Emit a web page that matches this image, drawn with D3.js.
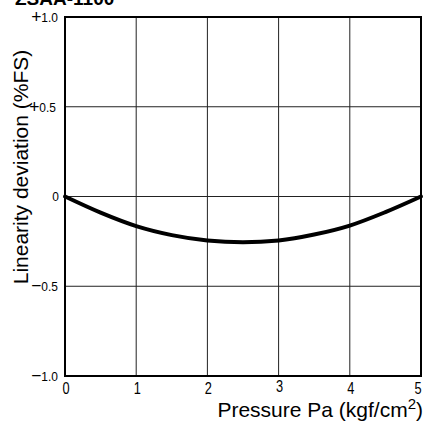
<!DOCTYPE html>
<html>
<head>
<meta charset="utf-8">
<script src="https://cdn.jsdelivr.net/npm/d3@7"></script>
<style>
  body { margin: 0; background: #fff; }
  svg { display: block; font-family: "Liberation Sans", Arial, sans-serif; }
</style>
</head>
<body>
<svg id="chart" width="426" height="426"></svg>
<script>
// data
var pressure = [0, 0.5, 1, 1.5, 2, 2.5, 3, 3.5, 4, 4.5, 5];
var deviation = [0, -0.09, -0.165, -0.215, -0.245, -0.255, -0.245, -0.212, -0.162, -0.087, 0];
var xTicks = [0, 1, 2, 3, 4, 5];
var yTicks = [1, 0.5, 0, -0.5, -1];
var yTickSigns = ["+", "+", "", "\u2212", "\u2212"];
var yTickNumbers = ["1.0", "0.5", "0", "0.5", "1.0"];

var margin = {top: 17, right: 5, bottom: 50, left: 65},
    width = 426 - margin.left - margin.right,
    height = 426 - margin.top - margin.bottom;

var svg = d3.select("#chart");

var x = d3.scaleLinear().domain([0, 5]).range([margin.left, margin.left + width]);
var y = d3.scaleLinear().domain([-1, 1]).range([margin.top + height, margin.top]);

//title, cut off at the top as in the scan
svg.append("text")
	.text("ZSAA-1100")
	.attr("x", 15)
	.attr("y", 5)
	.attr("font-weight", "bold")
	.attr("font-size", 19)
	.attr("fill", "#000");

//grid lines
svg.append("g")
	.selectAll("line")
	.data(xTicks.slice(1, -1))
	.enter()
	.append("line")
	.attr("x1", function(d) { return x(d); })
	.attr("x2", function(d) { return x(d); })
	.attr("y1", y(1))
	.attr("y2", y(-1))
	.attr("stroke", "#222")
	.attr("stroke-width", 1);

svg.append("g")
	.selectAll("line")
	.data(yTicks.slice(1, -1))
	.enter()
	.append("line")
	.attr("x1", x(0))
	.attr("x2", x(5))
	.attr("y1", function(d) { return y(d); })
	.attr("y2", function(d) { return y(d); })
	.attr("stroke", "#222")
	.attr("stroke-width", 1);

//frame
svg.append("rect")
	.attr("x", x(0))
	.attr("y", y(1))
	.attr("width", x(5) - x(0))
	.attr("height", y(-1) - y(1))
	.attr("fill", "none")
	.attr("stroke", "#000")
	.attr("stroke-width", 2);

//x tick labels
function xLabelPos(d) { return d === 5 ? x(d) - 3 : x(d) + 1; }
svg.append("g")
	.selectAll("text")
	.data(xTicks)
	.enter()
	.append("text")
	.text(function(d) { return d; })
	.attr("x", xLabelPos)
	.attr("y", function(d) { return d === 3 ? 392 : 394; })
	.attr("text-anchor", "middle")
	.attr("font-size", 16)
	.attr("transform", function(d) {
		var cx = xLabelPos(d);
		return "translate(" + cx + ",0) scale(0.8,1) translate(" + (-cx) + ",0)";
	})
	.attr("fill", "#000");

//y tick labels
var yLabelX = {"1": 58, "0.5": 56, "0": 59, "-0.5": 58, "-1": 58};
var yLab = svg.append("g")
	.selectAll("text")
	.data(yTicks)
	.enter()
	.append("text")
	.attr("x", function(d) { return yLabelX[String(d)]; })
	.attr("y", function(d) { return y(d) + 5; })
	.attr("text-anchor", "end")
	.attr("font-size", 13)
	.attr("transform", function(d) {
		var cx = yLabelX[String(d)];
		return "translate(" + cx + ",0) scale(0.92,1) translate(" + (-cx) + ",0)";
	})
	.attr("fill", "#000");
yLab.append("tspan")
	.text(function(d, i) { return yTickSigns[i]; })
	.attr("font-size", 19)
	.attr("dy", 1);
yLab.append("tspan")
	.text(function(d, i) { return yTickNumbers[i]; })
	.attr("dy", function(d, i) { return yTickSigns[i] ? -1 : 0; });

//axis titles
svg.append("text")
	.text("Linearity deviation (%FS)")
	.attr("transform", "translate(28,167) rotate(-90)")
	.attr("text-anchor", "middle")
	.attr("font-size", 21)
	.attr("fill", "#000");

var xt = svg.append("text")
	.attr("x", 423)
	.attr("y", 417)
	.attr("text-anchor", "end")
	.attr("font-size", 21)
	.attr("fill", "#000");
xt.append("tspan").text("Pressure Pa (kgf/cm");
xt.append("tspan").text("2").attr("dy", -8).attr("font-size", 15);
xt.append("tspan").text(")").attr("dy", 8);

//curve
var line = d3.line()
	.x(function(d, i) { return x(pressure[i]); })
	.y(function(d) { return y(d); })
	.curve(d3.curveMonotoneX);

svg.append("path")
	.datum(deviation)
	.attr("d", line)
	.attr("fill", "none")
	.attr("stroke", "#000")
	.attr("stroke-width", 4)
	.attr("stroke-linecap", "round");
</script>
</body>
</html>
